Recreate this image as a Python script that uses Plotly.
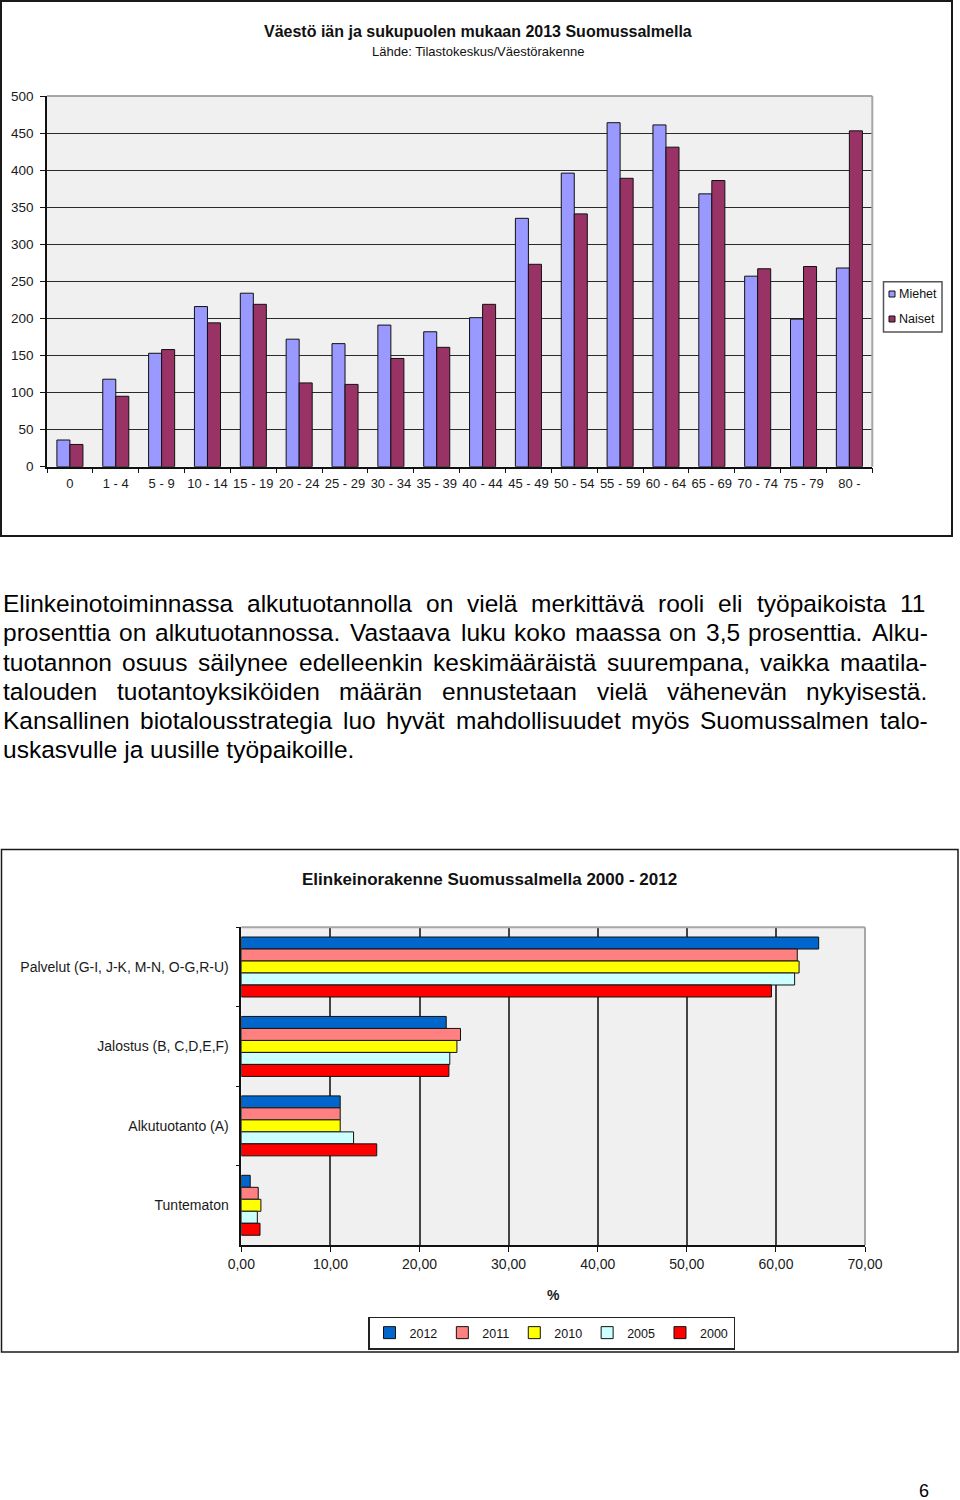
import plotly.graph_objects as go

W, H = 960, 1500
FONT = "Liberation Sans, Arial, sans-serif"

# ---------------- Chart 1 data ----------------
age_groups = ["0", "1 - 4", "5 - 9", "10 - 14", "15 - 19", "20 - 24", "25 - 29",
              "30 - 34", "35 - 39", "40 - 44", "45 - 49", "50 - 54", "55 - 59",
              "60 - 64", "65 - 69", "70 - 74", "75 - 79", "80 -"]
miehet = [36, 118, 153, 216, 234, 172, 166, 191, 182, 201, 335, 396, 464, 461, 368, 257, 199, 268]
naiset = [30, 95, 158, 194, 219, 113, 111, 146, 161, 219, 273, 341, 389, 431, 386, 267, 270, 453]
gender_names = ["Miehet", "Naiset"]

# ---------------- Chart 2 data ----------------
sectors = ["Palvelut (G-I, J-K, M-N, O-G,R-U)", "Jalostus (B, C,D,E,F)",
           "Alkutuotanto (A)", "Tuntematon"]
years = ["2012", "2011", "2010", "2005", "2000"]
share_2012 = [64.8, 23.0, 11.1, 1.0]
share_2011 = [62.4, 24.6, 11.1, 1.9]
share_2010 = [62.6, 24.2, 11.1, 2.2]
share_2005 = [62.1, 23.4, 12.6, 1.8]
share_2000 = [59.5, 23.3, 15.2, 2.1]
shares = [share_2012, share_2011, share_2010, share_2005, share_2000]

# ---------------- Text ----------------
title1 = "<b>Väestö iän ja sukupuolen mukaan 2013 Suomussalmella</b>"
subtitle1 = "Lähde: Tilastokeskus/Väestörakenne"
title2 = "<b>Elinkeinorakenne Suomussalmella 2000 - 2012</b>"
para_lines = [
    "Elinkeinotoiminnassa alkutuotannolla on vielä merkittävä rooli eli työpaikoista 11",
    "prosenttia on alkutuotannossa. Vastaava luku koko maassa on 3,5 prosenttia. Alku-",
    "tuotannon osuus säilynee edelleenkin keskimääräistä suurempana, vaikka maatila-",
    "talouden tuotantoyksiköiden määrän ennustetaan vielä vähenevän nykyisestä.",
    "Kansallinen biotalousstrategia luo hyvät mahdollisuudet myös Suomussalmen talo-",
    "uskasvulle ja uusille työpaikoille.",
]
para_justify = [True, True, True, True, True, False]
page_number = "6"

colors1 = ["#9999FF", "#993366"]
colors2 = ["#0066CC", "#FF8080", "#FFFF00", "#CCFFFF", "#FF0000"]


def X(px):
    return px / W


def Y(py):
    return 1 - py / H


# Arial / Liberation Sans advance widths (1/1000 em)
AW = {' ': 278, ',': 278, '-': 333, '.': 278, ':': 278, '/': 278, '(': 333, ')': 333}
for c in "0123456789":
    AW[c] = 556
AW.update(dict(A=667, B=667, C=722, D=722, E=667, F=611, G=778, H=722, I=278, J=500,
               K=667, L=556, M=833, N=722, O=778, P=667, Q=778, R=722, S=667, T=611,
               U=722, V=667, W=944, X=667, Y=667, Z=611))
AW.update(dict(a=556, b=556, c=500, d=556, e=556, f=278, g=556, h=556, i=222, j=222,
               k=500, l=222, m=833, n=556, o=556, p=556, q=556, r=333, s=500, t=278,
               u=556, v=500, w=722, x=500, y=500, z=500))
AW.update({'ä': 556, 'ö': 556, 'å': 556, 'Ä': 667, 'Ö': 778})


def text_w(s, fs):
    return sum(AW.get(c, 556) for c in s) * fs / 1000.0


fig = go.Figure()

# ---- chart 1 bars ----
for name, vals, col, off in zip(gender_names, [miehet, naiset], colors1, [-0.284, 0.0]):
    fig.add_trace(go.Bar(
        x=age_groups, y=vals, name=name, xaxis="x", yaxis="y",
        width=0.284, offset=off, showlegend=False,
        marker=dict(color=col, line=dict(color="#111111", width=1)),
    ))

# ---- chart 2 bars ----
for yr, vals, col in zip(years, shares, colors2):
    fig.add_trace(go.Bar(
        y=sectors, x=vals, name=yr, orientation="h", xaxis="x2", yaxis="y2",
        marker=dict(color=col, line=dict(color="#111111", width=1)),
    ))

shapes = []
# outer frames
shapes.append(dict(type="rect", xref="paper", yref="paper", x0=X(1), x1=X(952), y0=Y(536), y1=Y(1),
                   line=dict(color="#1a1a1a", width=2), fillcolor="rgba(0,0,0,0)", layer="above"))
shapes.append(dict(type="rect", xref="paper", yref="paper", x0=X(1.5), x1=X(958), y0=Y(1352), y1=Y(849.5),
                   line=dict(color="#1a1a1a", width=1.5), fillcolor="rgba(0,0,0,0)", layer="above"))
# gray top/right plot borders
for xa, ya in [("x", "y"), ("x2", "y2")]:
    shapes.append(dict(type="line", xref=xa + " domain", yref=ya + " domain", x0=0, x1=1, y0=1, y1=1,
                       line=dict(color="#A6A6A6", width=2)))
    shapes.append(dict(type="line", xref=xa + " domain", yref=ya + " domain", x0=1, x1=1, y0=0, y1=1,
                       line=dict(color="#A6A6A6", width=2)))

# custom legend for chart 1
shapes.append(dict(type="rect", xref="paper", yref="paper", x0=X(883.5), x1=X(942), y0=Y(332), y1=Y(281.7),
                   line=dict(color="#555555", width=1.5), fillcolor="white"))
leg1_y = [294, 319]
for col, yy in zip(colors1, leg1_y):
    shapes.append(dict(type="rect", xref="paper", yref="paper", x0=X(889), x1=X(895), y0=Y(yy + 3), y1=Y(yy - 3),
                       line=dict(color="#111111", width=1), fillcolor=col))

annotations = []
annotations.append(dict(text=title1, x=X(477.5), y=Y(31.8), xref="paper", yref="paper", showarrow=False,
                        xanchor="center", yanchor="middle", font=dict(size=16, color="#111111")))
annotations.append(dict(text=subtitle1, x=X(477.5), y=Y(51.5), xref="paper", yref="paper", showarrow=False,
                        xanchor="center", yanchor="middle", font=dict(size=13, color="#111111")))
annotations.append(dict(text=title2, x=X(489.5), y=Y(879.8), xref="paper", yref="paper", showarrow=False,
                        xanchor="center", yanchor="middle", font=dict(size=17, color="#111111")))
for name, yy in zip(gender_names, leg1_y):
    annotations.append(dict(text=name, x=X(896.5), y=Y(yy), xref="paper", yref="paper", showarrow=False,
                            xanchor="left", yanchor="middle", font=dict(size=12.5, color="#111111")))

# paragraph
FS = 24.5
LEFT, RIGHT = 2.0, 926.5
baselines = [612.3, 641.3, 670.5, 699.8, 729.0, 758.0]
for line, just, base in zip(para_lines, para_justify, baselines):
    yc = base - 0.3465 * FS
    words = line.split(" ")
    if just and len(words) > 1:
        widths = [text_w(w, FS) for w in words]
        gap = (RIGHT - LEFT - sum(widths)) / (len(words) - 1)
        xx = LEFT
        for w, ww in zip(words, widths):
            annotations.append(dict(text=w, x=X(xx), y=Y(yc), xref="paper", yref="paper", showarrow=False,
                                    xanchor="left", yanchor="middle", borderpad=0,
                                    font=dict(size=FS, color="#000000")))
            xx += ww + gap
    else:
        annotations.append(dict(text=line, x=X(LEFT), y=Y(yc), xref="paper", yref="paper", showarrow=False,
                                xanchor="left", yanchor="middle", borderpad=0,
                                font=dict(size=FS, color="#000000")))

annotations.append(dict(text=page_number, x=X(924), y=Y(1491), xref="paper", yref="paper", showarrow=False,
                        xanchor="center", yanchor="middle", font=dict(size=18, color="#000000")))

fig.update_layout(
    width=W, height=H, margin=dict(l=0, r=0, t=0, b=0, pad=0, autoexpand=False),
    paper_bgcolor="white", plot_bgcolor="#F0F0F0",
    barmode="group", bargap=0.245, bargroupgap=0,
    separators=", ",
    font=dict(family=FONT, color="#1a1a1a"),
    showlegend=True,
    legend=dict(orientation="h", x=X(551.5), xanchor="center", y=Y(1316.5), yanchor="top",
                bordercolor="#222222", borderwidth=1.5, bgcolor="white", traceorder="normal",
                itemwidth=30, font=dict(size=12.5, color="#111111")),
    xaxis=dict(domain=[X(47), X(872.3)], anchor="y", type="category", range=[-0.5, 17.5],
               ticks="outside", tickson="boundaries", ticklen=5, tickcolor="#111111", tickangle=0,
               ticklabelstandoff=4,
               showline=True, linecolor="#111111", linewidth=1.5, showgrid=False,
               tickfont=dict(size=13, color="#1a1a1a")),
    yaxis=dict(domain=[Y(466.7), Y(96)], anchor="x", range=[0, 500], dtick=50,
               ticks="outside", ticklen=5, tickcolor="#111111", ticklabelstandoff=4,
               showline=True, linecolor="#111111", linewidth=1.5,
               showgrid=True, gridcolor="#2a2a2a", gridwidth=1, zeroline=False,
               tickfont=dict(size=13.5, color="#1a1a1a")),
    xaxis2=dict(domain=[X(241.3), X(865)], anchor="y2", range=[0, 70], dtick=10, tickformat=".2f",
                ticks="outside", ticklen=5, tickcolor="#111111", tickangle=0,
                showline=True, linecolor="#111111", linewidth=1.5,
                showgrid=True, gridcolor="#444444", gridwidth=1.5, zeroline=False,
                title=dict(text="<b>%</b>", font=dict(size=14, color="#1a1a1a"), standoff=20),
                tickfont=dict(size=14, color="#1a1a1a")),
    yaxis2=dict(domain=[Y(1245), Y(927.3)], anchor="x2", type="category", range=[3.5, -0.5],
                ticks="outside", tickson="boundaries", ticklen=4, tickcolor="#111111",
                ticklabelstandoff=8,
                showline=True, linecolor="#111111", linewidth=1.5, showgrid=False,
                tickfont=dict(size=14, color="#1a1a1a")),
    shapes=shapes,
    annotations=annotations,
)

fig.write_html(
    "out.html",
    post_script="document.body.style.margin='0px';document.body.style.padding='0px';"
                "document.documentElement.style.overflow='hidden';",
)
